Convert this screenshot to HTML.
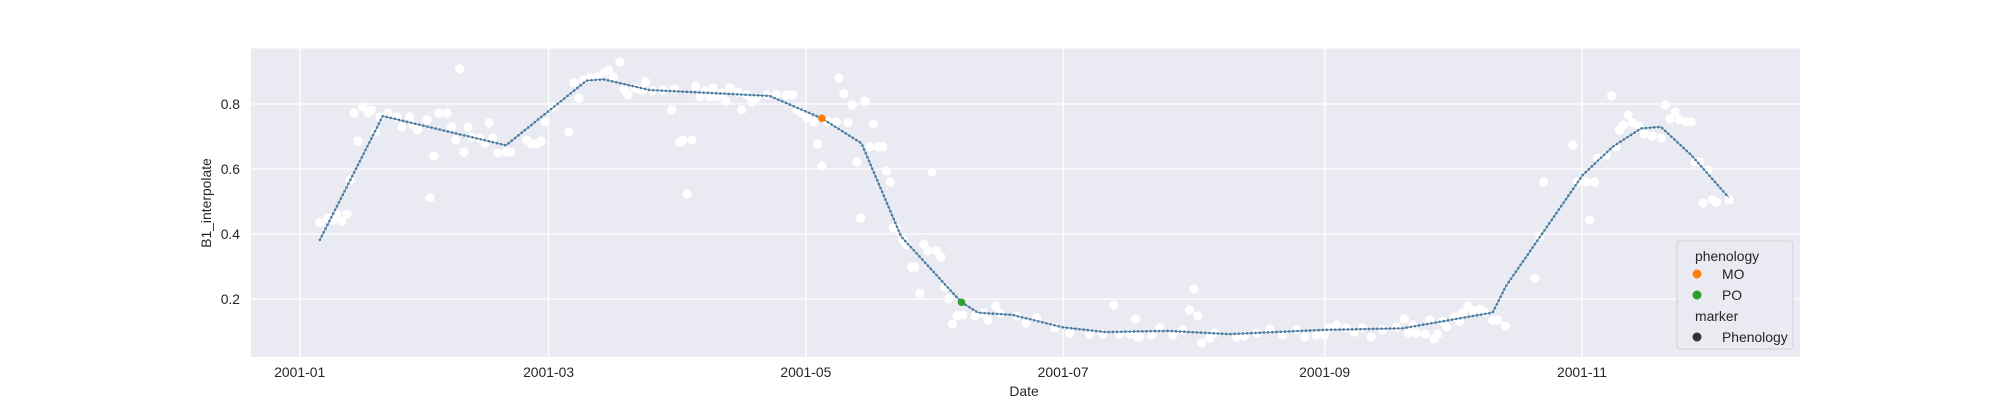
<!DOCTYPE html>
<html><head><meta charset="utf-8"><style>
html,body{margin:0;padding:0;background:#fff;}
svg{display:block;font-family:"Liberation Sans",Arial,sans-serif;}
</style></head><body>
<svg id="chart" width="2000" height="400" viewBox="0 0 2000 400" xmlns="http://www.w3.org/2000/svg">
<rect x="251" y="48.5" width="1549" height="308.5" fill="#eaeaf2"/>
<g id="grid"></g>
<g id="scatter"></g>
<g id="series"></g>
<g id="ticks" fill="#262626" font-size="13.9"></g>
<text x="0" y="0" transform="translate(211,203) rotate(-90)" text-anchor="middle" font-size="13.9" fill="#262626">B1_interpolate</text>
<text x="1024" y="396" text-anchor="middle" font-size="13.9" fill="#262626">Date</text>
<g>
<rect x="1677" y="241" width="116" height="108" rx="3" fill="#eaeaf2" fill-opacity="0.8" stroke="#d0d0d6" stroke-width="1"/>
<text x="1695" y="261" font-size="13.9" fill="#262626">phenology</text>
<circle cx="1697" cy="274" r="4.5" fill="#ff7f0e"/>
<text x="1722" y="279" font-size="13.9" fill="#262626">MO</text>
<circle cx="1697" cy="295" r="4.5" fill="#2ca02c"/>
<text x="1722" y="300" font-size="13.9" fill="#262626">PO</text>
<text x="1695" y="321" font-size="13.9" fill="#262626">marker</text>
<circle cx="1697" cy="337" r="4.5" fill="#333333"/>
<text x="1722" y="342" font-size="13.9" fill="#262626">Phenology</text>
</g>
</svg>
<script>
// ---- data ----
const xTickLabels = ["2001-01","2001-03","2001-05","2001-07","2001-09","2001-11"];
const xTickDays = [0,59,120,181,243,304];
const yTickValues = [0.2,0.4,0.6,0.8];
// interpolated curve knots (day of year offset from 2001-01-01, value)
const lineDays = [4.8,19.7,48.9,68,72,83,111.4,123.8,133.2,142.6,156.9,160.8,169,180.9,191.2,196.8,206,220.4,242.6,261.5,272.6,282.8,286,304.2,311.3,318,322.7,329.9,338.8];
const lineVals = [0.382,0.763,0.673,0.872,0.876,0.843,0.825,0.756,0.679,0.392,0.19,0.158,0.151,0.113,0.098,0.1,0.102,0.092,0.105,0.11,0.135,0.158,0.24,0.582,0.669,0.725,0.73,0.643,0.512];
const phenoDays = [123.8,156.9];
const phenoVals = [0.756,0.19];
const phenoLabels = ["MO","PO"];
// observed raw points
const obsDays = [4.8,6.7,8.8,11.2,10,7.9,11.9,12.9,13.8,15,16.2,17,18,19,20.9,23,24.2,26.1,26.9,28,30.2,30.9,31.8,33,34.9,36,37,37.9,38.9,39.9,40.8,42.7,43.9,44.9,45.8,47,49,50,53.8,55,56.2,57.2,58.2,60,63.8,65,66.2,67.2,68.8,70.7,72.3,73.2,74.3,75.9,76.9,77.8,79.5,80.9,82,81.4,83.7,86.1,88.2,88.9,90.1,90.8,91.8,93,93.9,94.9,96.1,97.2,98,98.9,100.1,101,102,103.9,104.8,106,107.2,108.3,110.7,113,115.4,116.9,117.9,119,120.2,121.9,122.8,123.8,125.2,127.2,127.8,129,130,131,132.1,133,134,135.1,136,137.2,138.3,139.1,140,140.7,141.5,143,143.9,145.1,145.8,147,148,148.9,149.9,151,152,152.9,153.9,154.8,155.8,157.2,160.1,162,163.1,165,166,170,172.2,174.7,179,182.6,187.3,190.4,193,194.4,196.8,198.2,198.7,199.2,202,203.9,207,209.3,211,212,212.9,213.8,215.7,216.9,222.1,224,226.9,230,233,236.3,238.2,241,243,244.1,245.8,248.1,250,252,254,256.7,260,261.9,262.9,263.9,264.8,266.9,267.9,268.9,269.8,271,271.9,273.8,275,275.7,276.9,278.1,279.8,280.9,282.8,284,285.9,292.8,294,305.8,301.8,294.9,302.9,305,307,307.7,309.8,312.1,312.9,313.8,314.9,316,317.6,311,318.8,320.7,322.8,323.8,324.9,326.1,327.1,328.6,329.9,330.8,331.9,333.8,332.7,334.9,335.9,338.9];
const obsVals = [0.435,0.449,0.461,0.461,0.44,0.443,0.566,0.772,0.686,0.791,0.772,0.781,0.714,0.76,0.772,0.76,0.729,0.76,0.735,0.72,0.751,0.511,0.64,0.772,0.772,0.729,0.689,0.908,0.652,0.729,0.698,0.695,0.68,0.742,0.695,0.649,0.652,0.652,0.689,0.677,0.677,0.686,0.745,0.791,0.714,0.865,0.818,0.874,0.88,0.883,0.898,0.905,0.883,0.929,0.846,0.828,0.849,0.843,0.868,0.843,0.84,0.843,0.782,0.846,0.683,0.689,0.523,0.689,0.855,0.822,0.84,0.822,0.849,0.822,0.834,0.809,0.849,0.837,0.782,0.828,0.806,0.818,0.828,0.828,0.828,0.828,0.782,0.772,0.757,0.745,0.677,0.609,0.745,0.745,0.88,0.831,0.742,0.797,0.622,0.449,0.809,0.668,0.738,0.668,0.668,0.594,0.56,0.418,0.418,0.382,0.366,0.298,0.298,0.218,0.369,0.348,0.591,0.348,0.329,0.237,0.2,0.123,0.148,0.151,0.148,0.157,0.135,0.178,0.157,0.148,0.126,0.142,0.111,0.095,0.092,0.092,0.182,0.092,0.092,0.138,0.083,0.083,0.089,0.111,0.089,0.105,0.166,0.231,0.148,0.065,0.08,0.095,0.083,0.086,0.095,0.108,0.089,0.105,0.083,0.089,0.089,0.111,0.12,0.111,0.098,0.111,0.083,0.105,0.114,0.138,0.095,0.12,0.095,0.092,0.135,0.077,0.092,0.132,0.114,0.145,0.132,0.157,0.178,0.166,0.169,0.16,0.135,0.135,0.117,0.264,0.394,0.443,0.674,0.56,0.56,0.56,0.56,0.634,0.643,0.668,0.72,0.735,0.766,0.742,0.732,0.825,0.708,0.702,0.695,0.797,0.754,0.775,0.751,0.745,0.745,0.622,0.622,0.597,0.495,0.505,0.498,0.505];

// ---- axes ----
const NS = "http://www.w3.org/2000/svg";
const X0 = 299.7, PXD = 4.218;
const xScale = d => X0 + d * PXD;
const yScale = v => 299 - (v - 0.2) * 325;
function mk(tag, attrs, parent){const e=document.createElementNS(NS,tag);for(const k in attrs)e.setAttribute(k,attrs[k]);parent.appendChild(e);return e;}

const grid = document.getElementById('grid');
const ticks = document.getElementById('ticks');
xTickDays.forEach((d,i)=>{
  const x = xScale(d);
  const gl = mk('line',{x1:x,x2:x,y1:48.5,y2:357,stroke:'#fff','stroke-width':1.3},grid);
  
  
  const t = mk('text',{x:x,y:377,'text-anchor':'middle'},ticks);
  t.textContent = xTickLabels[i];
  
  
});
yTickValues.forEach(v=>{
  const y = yScale(v);
  const gl = mk('line',{x1:251,x2:1800,y1:y,y2:y,stroke:'#fff','stroke-width':1.3},grid);
  
  
  const t = mk('text',{x:240,y:y+5,'text-anchor':'end'},ticks);
  t.textContent = v.toFixed(1);
  
  
});

const sc = document.getElementById('scatter');
obsDays.forEach((d,i)=>{
  const c = mk('circle',{cx:xScale(d),cy:yScale(obsVals[i]),r:4.6,fill:'#ffffff'},sc);
  
  
});

const ser = document.getElementById('series');
const pts = lineDays.map((d,i)=>xScale(d).toFixed(1)+','+yScale(lineVals[i]).toFixed(1)).join(' ');
const pl = mk('polyline',{points:pts,fill:'none',stroke:'#808080','stroke-width':1},ser);


const dl = mk('polyline',{points:pts,fill:'none',stroke:'#3f7fae','stroke-width':2.6,'stroke-linecap':'round','stroke-dasharray':'0 4.2'},ser);


const colors = ['#ff7f0e','#2ca02c'];
phenoDays.forEach((d,i)=>{
  const c = mk('circle',{cx:xScale(d),cy:yScale(phenoVals[i]),r:3.8,fill:colors[i]},ser);
  
  
});
</script>
</body></html>
